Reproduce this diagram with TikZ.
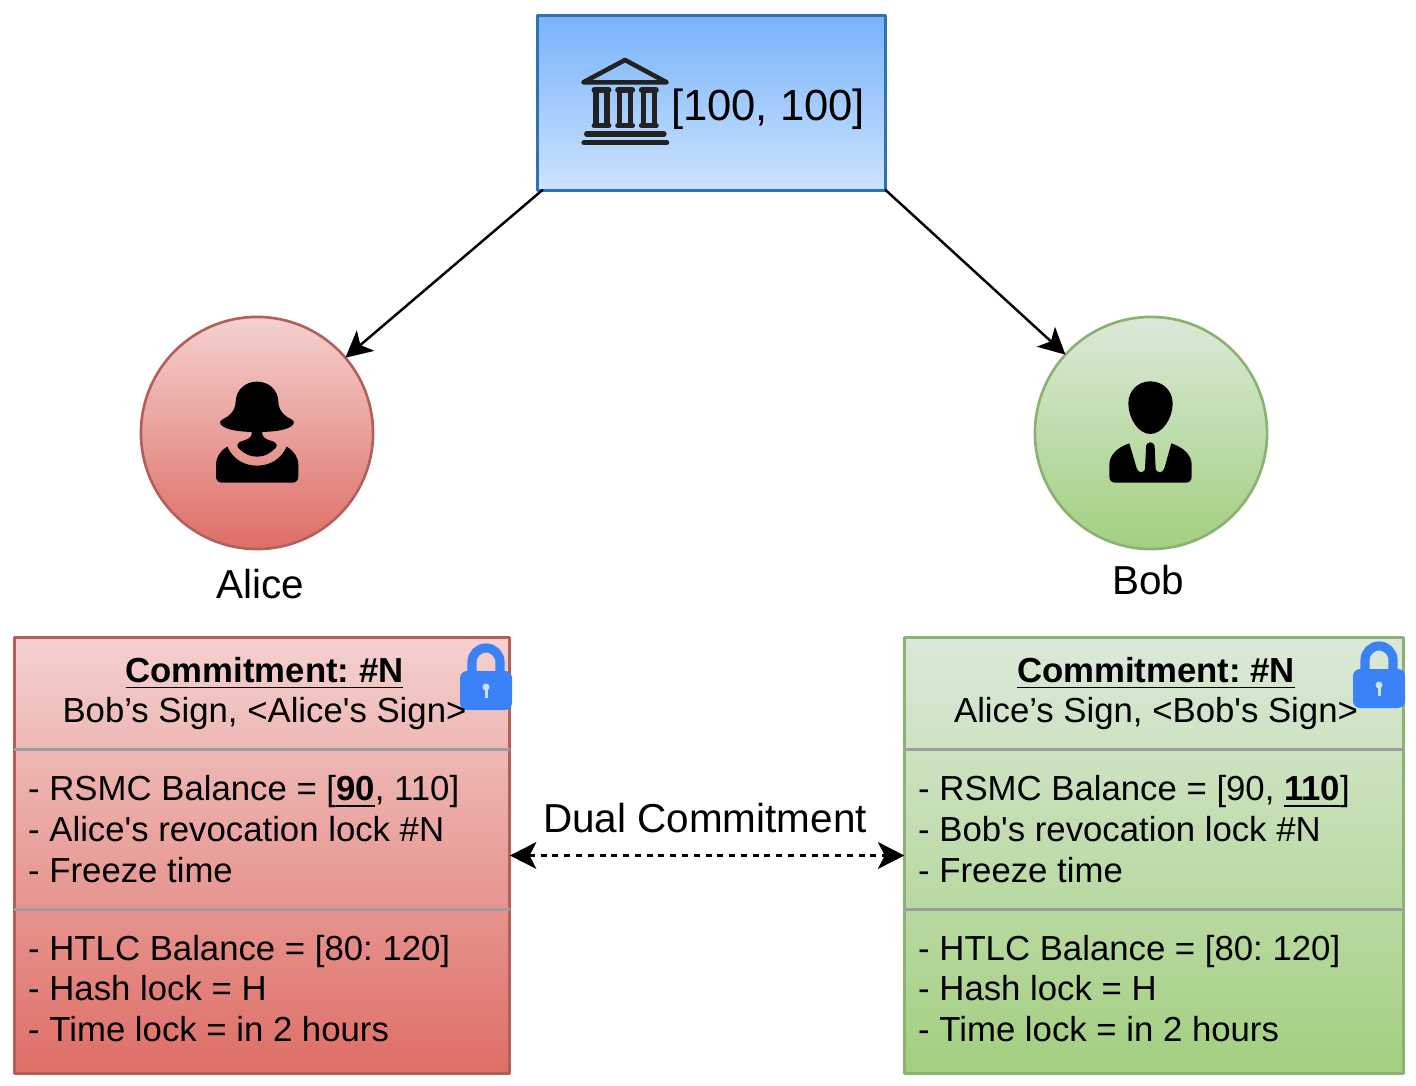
\documentclass[tikz,border=0pt]{standalone}
\usepackage{fontspec}
\setmainfont[Ligatures=TeXOff]{Liberation Sans}
\usetikzlibrary{arrows.meta}
\definecolor{banktop}{HTML}{78B3FA}
\definecolor{bankbot}{HTML}{CCE3FE}
\definecolor{bankline}{HTML}{2F72B3}
\definecolor{redtop}{HTML}{F4D1CF}
\definecolor{redbot}{HTML}{DE6E66}
\definecolor{redline}{HTML}{B3605A}
\definecolor{greentop}{HTML}{DBE9D8}
\definecolor{greenbot}{HTML}{A3CF80}
\definecolor{greenline}{HTML}{8AB270}
\definecolor{lockblue}{HTML}{3B82F6}
\definecolor{sepgray}{HTML}{9E9E9E}
\definecolor{iconblack}{HTML}{222222}
\tikzset{
  lockicon/.pic={
    \draw[lockblue,line width=2.6pt,line cap=butt] (-14,1) -- (-14,-9) arc (180:360:14) -- (14,1);
    \fill[lockblue,rounded corners=2pt] (-26,0) rectangle (26,39);
    \fill[white!75!lockblue] (0,16) circle (3.5);
    \fill[white!75!lockblue] (-1.5,16) rectangle (1.5,27);
  }
}
\begin{document}
\frenchspacing
\begin{tikzpicture}[line cap=round,line join=round,>={Stealth[length=7.5pt,width=7.6pt,inset=1.9pt]},x=0.01cm,y=-0.01cm,
    textsmall/.style={font=\fontsize{9.88}{11.62}\selectfont,inner sep=0pt},
    textbig/.style={font=\fontsize{11.5}{13}\selectfont,inner sep=0pt},
    listtext/.style={textsmall,anchor=west,align=left},
    headtext/.style={textsmall,align=center},
    commitbox/.style={draw,line width=0.85pt,minimum height=4.35cm,inner sep=0pt,outer sep=0pt},
    personcircle/.style={draw,circle,line width=0.75pt,minimum size=2.32cm,inner sep=0pt,outer sep=0pt},
    sepline/.style={sepgray,line width=0.75pt,line cap=butt}]
  \useasboundingbox (0,0) rectangle (1416,1086);

  \node (bank) [draw=bankline,top color=banktop,bottom color=bankbot,line width=0.85pt,minimum width=3.48cm,minimum height=1.74cm,inner sep=0pt,outer sep=0pt] at (711.5,103) {};
  \node (bankvalue) [font=\fontsize{12.4}{14}\selectfont,inner sep=0pt] at (768,109) {[100, 100]};

  \node (alice) [personcircle,draw=redline,top color=redtop,bottom color=redbot] at (257,433) {};
  \node (bob) [personcircle,draw=greenline,top color=greentop,bottom color=greenbot] at (1151,433) {};
  \node (alicename) [textbig] at (260,584) {Alice};
  \node (bobname) [textbig] at (1148,580) {Bob};

  \node (commitalice) [commitbox,draw=redline,top color=redtop,bottom color=redbot,minimum width=4.955cm] at (262,855.5) {};
  \node (commitbob) [commitbox,draw=greenline,top color=greentop,bottom color=greenbot,minimum width=4.99cm] at (1154,855.5) {};

  \foreach \y in {749.5,909.5}{
    \draw[sepline] (commitalice.west |- 0,\y) -- (commitalice.east |- 0,\y);
    \draw[sepline] (commitbob.west |- 0,\y) -- (commitbob.east |- 0,\y);
  }

  \begin{scope}[shift={(530,5)},scale=1/3,iconblack]
    \draw[line width=1.3pt] (285,165) -- (160,232) -- (410,232) -- cycle;
    \foreach \x in {0,71,142}{
      \draw[line width=1.6pt] (198+\x,255) rectangle (231+\x,362);
      \draw[line width=1.6pt] (193+\x,255) -- (236+\x,255);
      \draw[line width=1.6pt] (193+\x,362) -- (236+\x,362);
    }
    \draw[line width=1.5pt] (170,387) -- (402,387);
    \draw[line width=1.5pt] (162,413) -- (410,413);
  \end{scope}

  \begin{scope}[shift={(130,310)},scale=1/3]
    \fill[black] (381,215) .. controls (345,215) and (318,240) .. (317,275) .. controls (316,305) and (295,320) .. (278,328) .. controls (262,336) and (272,348) .. (290,355) .. controls (310,363) and (340,365) .. (365,366) .. controls (368,380) and (355,388) .. (340,392) .. controls (316,398) and (318,412) .. (332,420) .. controls (345,432) and (360,440) .. (381,440) .. controls (402,440) and (417,432) .. (430,420) .. controls (444,412) and (446,398) .. (422,392) .. controls (407,388) and (394,380) .. (397,366) .. controls (422,365) and (452,363) .. (472,355) .. controls (490,348) and (500,336) .. (484,328) .. controls (467,320) and (446,305) .. (445,275) .. controls (444,240) and (417,215) .. (381,215) -- cycle;
    \fill[black] (292,410) .. controls (310,450) and (345,467) .. (381,467) .. controls (417,467) and (452,450) .. (470,410) .. controls (490,422) and (505,440) .. (505,465) -- (505,500) .. controls (505,512) and (497,518) .. (487,518) -- (276,518) .. controls (265,518) and (258,510) .. (258,500) -- (258,465) .. controls (258,440) and (272,422) .. (292,410) -- cycle;
  \end{scope}

  \begin{scope}[shift={(1030,310)},scale=1/3]
    \fill[black] (361,214) .. controls (323,214) and (295,243) .. (295,280) .. controls (295,325) and (325,372) .. (361,372) .. controls (397,372) and (428,325) .. (428,280) .. controls (428,243) and (399,214) .. (361,214) -- cycle;
    \fill[black] (298,400) .. controls (262,412) and (238,435) .. (238,465) -- (238,500) .. controls (238,512) and (246,518) .. (256,518) -- (467,518) .. controls (477,518) and (485,512) .. (485,500) -- (485,465) .. controls (485,435) and (460,412) .. (424,400) -- (403,475) .. controls (398,490) and (382,490) .. (377,478) -- (374,412) .. controls (374,392) and (348,392) .. (348,412) -- (345,478) .. controls (340,490) and (325,490) .. (320,475) -- cycle;
  \end{scope}

  \pic at (486,671) {lockicon};
  \pic at (1379,669) {lockicon};

  \node (headalice) [headtext] at (264.5,693.5) {\underline{\textbf{Commitment: \#N}}\\Bob’s Sign, <Alice's Sign>};
  \node (headbob) [headtext] at (1156,693.5) {\underline{\textbf{Commitment: \#N}}\\Alice’s Sign, <Bob's Sign>};

  \node (rsmcalice) [listtext] at (27.5,829) {- RSMC Balance = [\underline{\textbf{90}}, 110]\\- Alice's revocation lock \#N\\- Freeze time};
  \node (htlcalice) [listtext] at (27.5,988.5) {- HTLC Balance = [80: 120]\\- Hash lock = H\\- Time lock = in 2 hours};
  \node (rsmcbob) [listtext] at (917.5,829) {- RSMC Balance = [90, \underline{\textbf{110}}]\\- Bob's revocation lock \#N\\- Freeze time};
  \node (htlcbob) [listtext] at (917.5,988.5) {- HTLC Balance = [80: 120]\\- Hash lock = H\\- Time lock = in 2 hours};

  \node (dualname) [textbig] at (705,818) {Dual Commitment};

  \draw[->,line width=0.7pt] ([xshift=0.05cm]bank.south west) -- (alice);
  \draw[->,line width=0.7pt] (bank.south east) -- (bob);
  \draw[<->,line width=0.7pt,line cap=butt,dash pattern=on 1.7pt off 1.65pt] (commitalice) -- (commitbob);
\end{tikzpicture}
\end{document}
